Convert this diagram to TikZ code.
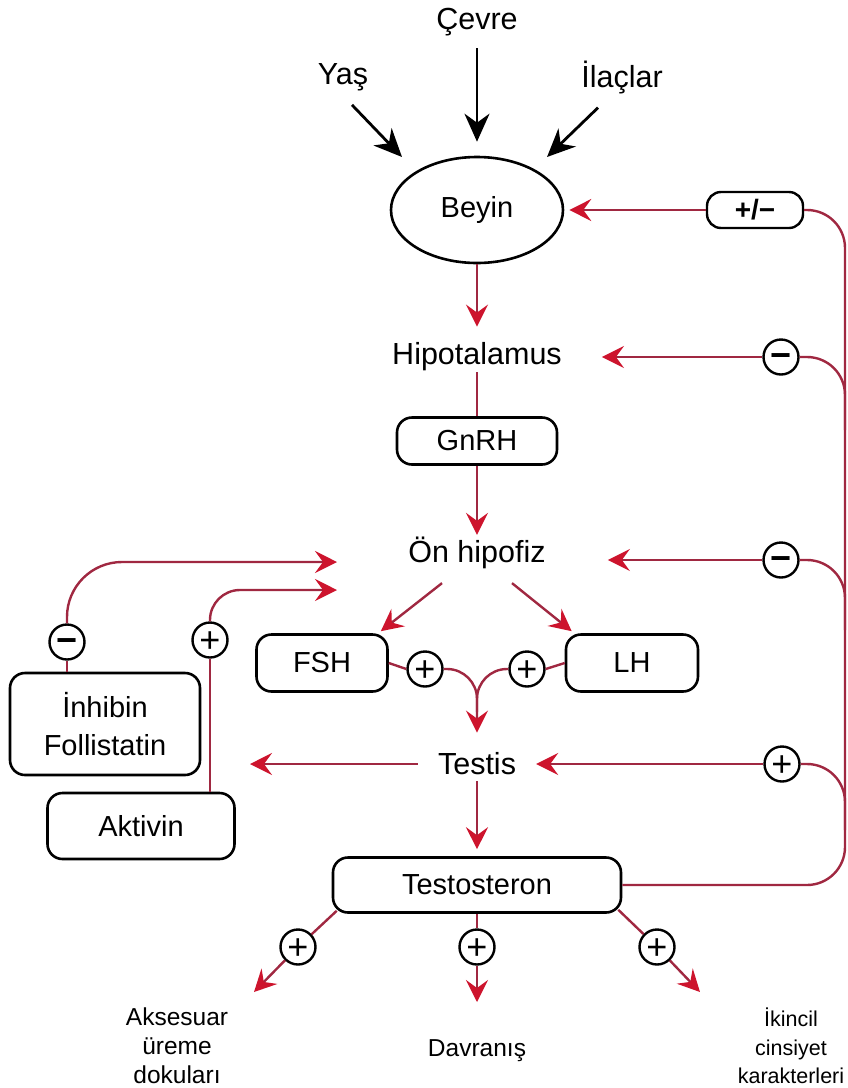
\documentclass[tikz,border=0pt]{standalone}
\usepackage{fontspec}
\setmainfont{Liberation Sans}
\usetikzlibrary{arrows.meta,calc,shapes.geometric}
\definecolor{lnred}{RGB}{160,40,65}
\definecolor{tipred}{RGB}{205,20,45}
\begin{document}
\begin{tikzpicture}[x=1pt,y=-1pt,
 lbl/.style={inner sep=0pt,font=\fontsize{30.5}{36}\selectfont},
 small/.style={inner sep=0pt,align=center,font=\fontsize{24.5}{29}\selectfont},
 box/.style={draw,line width=2.6pt,rounded corners=15pt,inner sep=0pt,font=\fontsize{29}{38}\selectfont,align=center},
 sign/.style={draw,circle,line width=2.4pt,minimum size=35pt,inner sep=0pt,text height=25.4pt,text depth=0pt,font=\fontsize{36}{36}\selectfont},
 neg/.style={sign,text height=20pt,font=\fontsize{36}{36}\selectfont\bfseries},
 rline/.style={draw=lnred,line width=2.4pt},
 rarr/.style={rline,-{Stealth[length=22pt,width=22pt,inset=8pt,color=tipred]}},
 barr/.style={line width=2.8pt,-{Stealth[length=28pt,width=25pt,inset=9pt]}},
]
\useasboundingbox (0,0) rectangle (848,1088);

% top inputs
\node[lbl] (cevre) at (477,22) {Çevre};
\node[lbl] (yas) at (343,77) {Yaş};
\node[lbl] (ilac) at (622,77) {İlaçlar};
\node[draw,ellipse,line width=2.6pt,minimum width=172pt,minimum height=106pt,inner sep=0pt,font=\fontsize{29}{34}\selectfont] (beyin) at (477,210) {Beyin};

% main chain
\node[lbl] (hipo) at (477,357) {Hipotalamus};
\node[box,minimum width=160pt,minimum height=47pt] (gnrh) at (477,441) {GnRH};
\node[lbl] (on) at (477,553) {Ön hipofiz};
\node[box,minimum width=131pt,minimum height=57pt] (fsh) at (322,663) {FSH};
\node[box,minimum width=132pt,minimum height=57pt] (lh) at (632,663) {LH};
\node[sign] (pf) at (425,669) {+};
\node[sign] (pl) at (527,669) {+};
\node[lbl] (testis) at (477,764) {Testis};
\node[box,minimum width=288pt,minimum height=55pt] (testo) at (477,885) {Testosteron};

% left side
\node[box,minimum width=190pt,minimum height=102pt] (inh) at (105,724) {İnhibin\\Follistatin};
\node[box,minimum width=187pt,minimum height=66pt] (akt) at (141,826) {Aktivin};
\node[neg] (mi) at (67,642) {−};
\node[sign] (pa) at (210,640) {+};

% right feedback markers
\node[draw,line width=2.4pt,rounded corners=14pt,minimum width=96pt,minimum height=36pt,inner sep=0pt,font=\fontsize{28}{28}\selectfont\bfseries] (pm) at (755,210) {+/−};
\node[neg] (m1) at (781,357) {−};
\node[neg] (m2) at (781,560) {−};
\node[sign] (p3) at (782,764) {+};

% bottom
\node[sign] (b1) at (298,947) {+};
\node[sign] (b2) at (477,947) {+};
\node[sign] (b3) at (657,947) {+};
\node[small] (aks) at (177,1046) {Aksesuar\\üreme\\dokuları};
\node[small] (dav) at (477,1051) {Davranış};
\node[small,font=\fontsize{21.5}{28.5}\selectfont] (iki) at (791,1046) {İkincil\\cinsiyet\\karakterleri};

% named free ends
\coordinate (oin1) at (337,562);
\coordinate (oin2) at (337,590);
\coordinate (tleft) at (250,764);
\coordinate (e1) at (254,992);
\coordinate (e2) at (477,1002);
\coordinate (e3) at (700,992);

% black input arrows
\draw[barr] (cevre.south) ++(0,12) -- ($(beyin.north)+(0,-14)$);
\draw[barr] ($(yas.south)+(9,14)$) -- ($(beyin.center)+(-75,-53)$);
\draw[barr] ($(ilac.south)+(-24,14)$) -- ($(beyin.center)+(70,-53)$);

% main chain arrows
\draw[rarr,shorten >=16pt] (beyin.south) -- (hipo.north);
\draw[rline,shorten <=1pt] (hipo.south) -- (gnrh.north);
\draw[rarr,shorten >=2pt] (gnrh.south) -- (on.north);
\draw[rarr] ($(on.south)+(-35,14)$) -- ($(fsh.north east)+(-8,-2)$);
\draw[rarr] ($(on.south)+(35,14)$) -- ($(lh.north west)+(7,-2)$);
\draw[rline] (fsh.east) -- (pf.west);
\draw[rline] (lh.west) -- (pl.east);
\draw[rline,rounded corners=30pt] (pl.west) -| (477,712);
\draw[rarr,rounded corners=30pt,shorten >=20pt] (pf.east) -| (testis.north);
\draw[rarr,shorten <=6pt,shorten >=7pt] (testis.south) -- (testo.north);
\draw[rarr,shorten <=20pt] (testis.west) -- (tleft);

% left loops
\draw[rline] (mi.south) -- (mi.south |- inh.north);
\draw[rarr,rounded corners=55pt] (mi.north) |- (oin1);
\draw[rline] (pa.south) -- (pa.south |- akt.north);
\draw[rarr,rounded corners=30pt] (pa.north) |- (oin2);

% right feedback loop
\draw[rline,rounded corners=38pt] (testo.east) -- (845,885) -- (845,210) -- (pm.east);
\draw[rline,rounded corners=38pt] (m1.east) -- (845,357) -- (845,430);
\draw[rline,rounded corners=38pt] (m2.east) -- (845,560) -- (845,630);
\draw[rline,rounded corners=38pt] (p3.east) -- (845,764) -- (845,830);
\draw[rarr,shorten >=5pt] (pm.west) -- (beyin.east);
\draw[rarr,shorten >=40pt] (m1.west) -- (hipo.east |- m1.west);
\draw[rarr,shorten >=62pt] (m2.west) -- (on.east |- m2.west);
\draw[rarr,shorten >=20pt] (p3.west) -- (testis.east |- p3.west);

% bottom outputs
\draw[rline] ($(testo.south west)+(5,-3)$) -- (b1);
\draw[rarr] (b1) -- (e1);
\draw[rline] (testo.south) -- (b2);
\draw[rarr] (b2) -- (e2);
\draw[rline] ($(testo.south east)+(-4,-4)$) -- (b3);
\draw[rarr] (b3) -- (e3);
\end{tikzpicture}
\end{document}
